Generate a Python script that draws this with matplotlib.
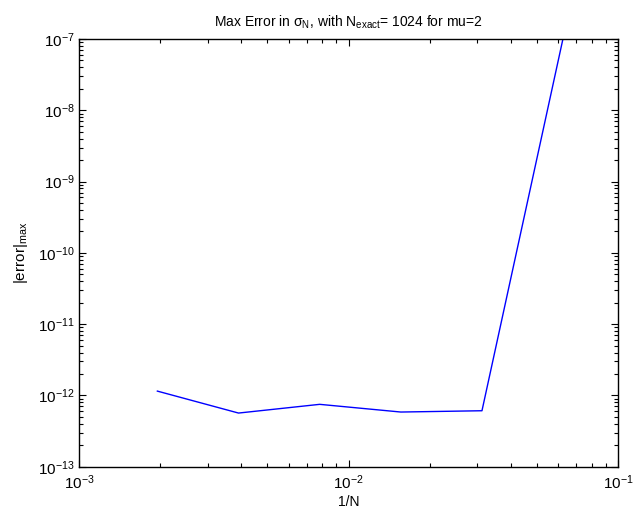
import matplotlib
matplotlib.use("Agg")
import matplotlib.pyplot as plt
from matplotlib.ticker import LogLocator, NullFormatter

plt.rcParams["font.family"] = "Liberation Sans"
plt.rcParams["mathtext.fontset"] = "custom"
plt.rcParams["mathtext.rm"] = "Liberation Sans"
plt.rcParams["mathtext.it"] = "Liberation Sans"
plt.rcParams["mathtext.sf"] = "Liberation Sans"

# grid sizes and max error against the N=1024 reference solution
N = [512, 256, 128, 64, 32, 16]
err_max = [1.15e-12, 5.66e-13, 7.5e-13, 5.85e-13, 6.1e-13, 1.03e-7]
inv_N = [1.0 / n for n in N]

fig = plt.figure(figsize=(6.34, 5.16), dpi=100)
ax = fig.add_axes([0.1246, 0.0955, 0.8504, 0.8289])

ax.loglog(inv_N, err_max, color="#0000ff", linewidth=1.0)

ax.set_xlim(1e-3, 1e-1)
ax.set_ylim(1e-13, 1e-7)

ax.xaxis.set_major_locator(LogLocator(base=10, numticks=10))
ax.xaxis.set_minor_locator(LogLocator(base=10, subs=range(2, 10), numticks=20))
ax.yaxis.set_major_locator(LogLocator(base=10, numticks=10))
ax.yaxis.set_minor_locator(LogLocator(base=10, subs=range(2, 10), numticks=20))
ax.xaxis.set_minor_formatter(NullFormatter())
ax.yaxis.set_minor_formatter(NullFormatter())

ax.tick_params(which="both", direction="in", top=True, right=True, labelsize=11, width=0.8)
ax.tick_params(which="major", length=5)
ax.tick_params(which="minor", length=3)
ax.tick_params(axis="x", which="major", pad=5)
ax.tick_params(axis="y", which="major", pad=3)
for s in ax.spines.values():
    s.set_linewidth(1.0)

ax.set_title(r"Max Error in $\sigma_{N}$, with N$_{\mathrm{exact}}$= 1024 for mu=2", fontsize=10, pad=9)
ax.set_xlabel("1/N", fontsize=10, labelpad=2)
ax.set_ylabel(r"|error|$_{\mathrm{max}}$", fontsize=11, labelpad=6)

fig.savefig("out.png", dpi=100)
